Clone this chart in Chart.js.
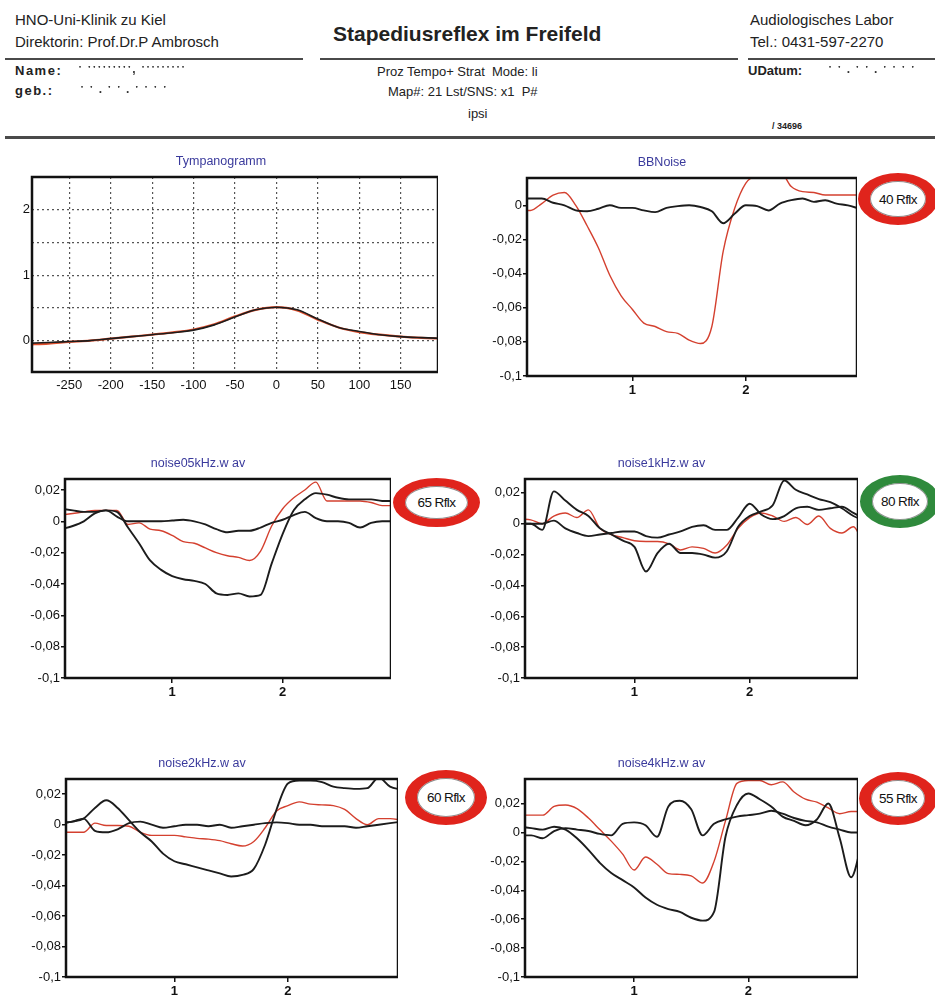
<!DOCTYPE html>
<html>
<head>
<meta charset="utf-8">
<script src="https://cdn.jsdelivr.net/npm/chart.js@4.4.1/dist/chart.umd.min.js"></script>
<style>
body { margin: 0; background: #fff; font-family: "Liberation Sans", Arial, sans-serif; color: #222; }
#page { position: relative; width: 935px; height: 1003px; overflow: hidden; }
.t { position: absolute; white-space: nowrap; }
.rule { position: absolute; background: #4a4a4a; }
.ring { position: absolute; box-sizing: border-box; border-radius: 50%; border-style: solid; border-width: 8px 12px;
        border-color: #e0241c; background: #fff; box-shadow: inset 0 0 0 1px rgba(0,0,0,.45);
        display: flex; align-items: center; justify-content: center; font-size: 13.5px; color: #111; letter-spacing: -0.6px; }
.ring.green { border-color: #2f8a3c; }
.blur { color: #333; filter: blur(0.6px); letter-spacing: 1px; font-weight: bold; }
canvas { position: absolute; }
</style>
</head>
<body>
<div id="page">
  <div class="t" style="left:15px;top:11px;font-size:15px">HNO-Uni-Klinik zu Kiel</div>
  <div class="t" style="left:15px;top:33px;font-size:15px">Direktorin: Prof.Dr.P Ambrosch</div>
  <div class="t" style="left:333px;top:22px;font-size:21px;font-weight:bold">Stapediusreflex im Freifeld</div>
  <div class="t" style="left:750px;top:11px;font-size:15px">Audiologisches Labor</div>
  <div class="t" style="left:750px;top:33px;font-size:15px">Tel.: 0431-597-2270</div>
  <div class="rule" style="left:5px;top:58px;width:298px;height:2px"></div>
  <div class="rule" style="left:320px;top:58px;width:418px;height:2px"></div>
  <div class="rule" style="left:748px;top:58px;width:187px;height:2px"></div>

  <div class="t" style="left:15px;top:63px;font-size:13px;font-weight:bold;letter-spacing:1.5px">Name:</div>
  <div class="t blur" style="left:78px;top:62px;font-size:12px">ˑ ˑˑˑˑˑˑˑˑˑ, ˑˑˑˑˑˑˑˑˑ</div>
  <div class="t" style="left:15px;top:83px;font-size:13px;font-weight:bold;letter-spacing:1.5px">geb.:</div>
  <div class="t blur" style="left:80px;top:82px;font-size:12px">ˑ ˑ . ˑ ˑ . ˑ ˑ ˑ ˑ</div>

  <div class="t" style="left:377px;top:64px;font-size:13px">Proz Tempo+ Strat&nbsp; Mode: li</div>
  <div class="t" style="left:388px;top:84px;font-size:13px">Map#: 21 Lst/SNS: x1&nbsp; P#</div>
  <div class="t" style="left:468px;top:106px;font-size:13px">ipsi</div>

  <div class="t" style="left:748px;top:63px;font-size:13px;font-weight:bold">UDatum:</div>
  <div class="t blur" style="left:828px;top:62px;font-size:12px">ˑ ˑ . ˑ ˑ . ˑ ˑ ˑ ˑ</div>
  <div class="t" style="left:772px;top:121px;font-size:9px;font-weight:bold">/ 34696</div>
  <div class="rule" style="left:5px;top:136px;width:930px;height:3px"></div>

  <canvas id="tymp"></canvas>
  <canvas id="bb"></canvas>
  <canvas id="n05"></canvas>
  <canvas id="n1"></canvas>
  <canvas id="n2"></canvas>
  <canvas id="n4"></canvas>

  <div class="ring" style="left:858px;top:173px;width:80px;height:52px">40 Rflx</div>
  <div class="ring" style="left:393px;top:478px;width:87px;height:49px">65 Rflx</div>
  <div class="ring green" style="left:860px;top:475px;width:80px;height:53px">80 Rflx</div>
  <div class="ring" style="left:405px;top:770px;width:82px;height:55px">60 Rflx</div>
  <div class="ring" style="left:859px;top:772px;width:78px;height:53px">55 Rflx</div>
</div>

<script>
// tympanogram: pressure (daPa) against compliance
var tympPressure = [-300, -275, -250, -225, -200, -175, -150, -125, -100, -75, -50, -25, 0, 25, 50, 75, 100, 125, 150, 175, 200];
var tympBlack = [-0.04, -0.03, -0.015, 0, 0.03, 0.06, 0.09, 0.12, 0.16, 0.24, 0.36, 0.47, 0.51, 0.47, 0.33, 0.2, 0.14, 0.09, 0.06, 0.045, 0.035];
var tympRed = [-0.06, -0.045, -0.02, 0, 0.03, 0.06, 0.09, 0.125, 0.17, 0.25, 0.37, 0.47, 0.51, 0.46, 0.32, 0.2, 0.13, 0.09, 0.06, 0.04, 0.03];
var tympXTicks = [-250, -200, -150, -100, -50, 0, 50, 100, 150];
var tympYTicks = [0, 0.5, 1, 1.5, 2];

// reflex curves, sampled every 0.1 s
var timeAxis = [0, 0.1, 0.2, 0.3, 0.4, 0.5, 0.6, 0.7, 0.8, 0.9, 1, 1.1, 1.2, 1.3, 1.4, 1.5, 1.6, 1.7, 1.8, 1.9, 2, 2.1, 2.2, 2.3, 2.4, 2.5, 2.6, 2.7, 2.8, 2.9, 3];

var bbRed = [-0.003, -0.003, 0.001, 0.006, 0.0075, 0, -0.012, -0.025, -0.041, -0.053, -0.061, -0.069, -0.071, -0.074, -0.075, -0.079, -0.081, -0.071, -0.027, -0.002, 0.013, 0.018, 0.02, 0.02, 0.011, 0.008, 0.0075, 0.006, 0.006, 0.006, 0.006];
var bbBlack = [0.004, 0.004, 0.004, 0.0015, 0, -0.003, -0.0035, -0.002, 0, -0.0015, -0.0015, -0.003, -0.004, -0.0015, -0.0005, 0, -0.001, -0.0035, -0.0105, -0.005, 0, -0.0005, -0.003, 0.001, 0.003, 0.004, 0.002, 0.003, 0.001, 0, -0.002];

var n05Red = [0.004, 0.005, 0.006, 0.007, 0.007, 0.007, -0.002, -0.001, -0.005, -0.006, -0.009, -0.013, -0.014, -0.017, -0.02, -0.022, -0.023, -0.025, -0.019, -0.003, 0.008, 0.015, 0.02, 0.025, 0.013, 0.013, 0.013, 0.013, 0.012, 0.01, 0.01];
var n05BlackA = [0.008, 0.007, 0.006, 0.006, 0.007, 0.006, -0.004, -0.014, -0.025, -0.031, -0.035, -0.037, -0.038, -0.04, -0.046, -0.047, -0.046, -0.048, -0.047, -0.027, -0.008, 0.007, 0.014, 0.018, 0.017, 0.015, 0.014, 0.014, 0.014, 0.013, 0.013];
var n05BlackB = [-0.005, -0.003, 0, 0.005, 0.007, 0.003, 0, 0, 0, 0, 0.0005, 0.001, 0, -0.002, -0.005, -0.007, -0.006, -0.006, -0.004, -0.001, 0.001, 0.004, 0.006, 0.002, 0, 0, -0.001, -0.004, -0.001, 0, 0];

var n1Red = [0.003, 0.0025, 0, 0.005, 0.007, 0.004, 0.009, -0.003, -0.007, -0.009, -0.011, -0.0115, -0.0115, -0.013, -0.017, -0.015, -0.016, -0.019, -0.014, -0.003, 0.004, 0.007, 0.005, 0.0015, 0.004, -0.0005, 0.005, -0.003, -0.006, -0.002, -0.016];
var n1BlackA = [0, 0, -0.004, 0.021, 0.015, 0.009, 0.005, -0.003, -0.007, -0.011, -0.015, -0.031, -0.019, -0.013, -0.019, -0.019, -0.02, -0.022, -0.018, -0.002, 0.005, 0.008, 0.012, 0.028, 0.022, 0.019, 0.016, 0.014, 0.01, 0.005, 0.002];
var n1BlackB = [0, 0, 0, 0.002, -0.003, -0.006, -0.008, -0.007, -0.006, -0.005, -0.005, -0.008, -0.009, -0.007, -0.005, -0.002, -0.001, -0.004, -0.004, 0.004, 0.013, 0.006, 0.003, 0.005, 0.01, 0.011, 0.009, 0.01, 0.011, 0.007, 0.003];

var n2Red = [-0.005, -0.005, -0.005, 0.001, -0.0005, -0.0005, -0.001, -0.005, -0.007, -0.007, -0.007, -0.008, -0.009, -0.0095, -0.0105, -0.0125, -0.014, -0.011, -0.002, 0.009, 0.0125, 0.015, 0.0135, 0.013, 0.0125, 0.01, 0.004, 0, 0.004, 0.004, 0.003];
var n2BlackA = [0.001, 0.002, 0.004, 0.011, 0.016, 0.011, 0.003, -0.005, -0.011, -0.019, -0.024, -0.026, -0.028, -0.03, -0.032, -0.034, -0.033, -0.029, -0.013, 0.01, 0.027, 0.029, 0.029, 0.028, 0.025, 0.024, 0.0235, 0.024, 0.031, 0.025, 0.023];
var n2BlackB = [0.001, 0.002, 0.004, -0.004, -0.005, -0.003, 0.001, 0.002, 0, -0.002, -0.001, 0, 0, -0.001, 0, -0.002, -0.001, 0, 0.001, 0.0015, 0.001, 0, 0, -0.001, -0.001, -0.001, -0.002, -0.001, 0, 0.001, 0.002];

var n4Red = [0.012, 0.012, 0.012, 0.018, 0.019, 0.0165, 0.01, 0.002, -0.006, -0.015, -0.026, -0.017, -0.022, -0.0285, -0.029, -0.03, -0.035, -0.02, 0.008, 0.034, 0.036, 0.036, 0.033, 0.035, 0.028, 0.023, 0.021, 0.017, 0.013, 0.0145, 0.0145];
var n4BlackA = [0.004, 0.003, 0.002, 0.004, 0.002, -0.004, -0.012, -0.021, -0.028, -0.033, -0.038, -0.045, -0.05, -0.053, -0.055, -0.059, -0.061, -0.055, -0.003, 0.019, 0.027, 0.023, 0.018, 0.011, 0.008, 0.005, 0.009, 0.02, -0.004, -0.031, -0.005];
var n4BlackB = [-0.002, -0.002, -0.004, 0.001, 0.003, 0.002, 0.001, -0.001, -0.002, 0.006, 0.007, 0.005, -0.003, 0.018, 0.022, 0.016, -0.002, 0.006, 0.009, 0.011, 0.012, 0.013, 0.015, 0.013, 0.01, 0.008, 0.007, 0.004, 0.002, 0, 0];

var reflexXTicks = [1, 2];
var bbYTicks = [0, -0.02, -0.04, -0.06, -0.08, -0.1];
var reflexYTicks = [0.02, 0, -0.02, -0.04, -0.06, -0.08, -0.1];

Chart.defaults.font.family = "'Liberation Sans', Arial, sans-serif";
Chart.defaults.color = '#111';

var RED = '#d4402f';
var BLACK = '#1c1c1c';
var TITLE_H = 25, XAXIS_H = 30, PAD_R = 4;

// thick box round the plot
var framePlugin = {
    id: 'frame',
    afterDatasetsDraw: function (chart) {
        var a = chart.chartArea, ctx = chart.ctx;
        ctx.save();
        ctx.strokeStyle = '#111';
        ctx.lineWidth = 2.5;
        ctx.strokeRect(a.left, a.top, a.right - a.left, a.bottom - a.top);
        ctx.restore();
    }
};

function place(id, box, yw) {
    var c = document.getElementById(id);
    c.width = yw + (box.r - box.l) + PAD_R;
    c.height = TITLE_H + (box.b - box.t) + XAXIS_H;
    c.style.left = (box.l - yw) + 'px';
    c.style.top = (box.t - TITLE_H) + 'px';
    return c;
}

function pairs(xs, ys) {
    return xs.map(function (x, i) { return { x: x, y: ys[i] }; });
}

function comma(v) {
    return String(+v.toFixed(3)).replace('.', ',');
}

function titleOpts(text) {
    return {
        display: true, text: text, color: '#3a3a9c',
        font: { size: 12.5, weight: 'normal', lineHeight: 1 },
        padding: { top: 3, bottom: 9.5 }
    };
}

function reflexChart(id, box, title, xmin, xmax, ymin, ymax, yTicks, series) {
    var yw = 60;
    var c = place(id, box, yw);
    var datasets = series.map(function (s) {
        return {
            data: pairs(timeAxis, s.values),
            borderColor: s.color,
            borderWidth: s.color === RED ? 1.4 : 1.9,
            pointRadius: 0,
            cubicInterpolationMode: 'monotone',
            fill: false
        };
    });
    new Chart(c, {
        type: 'line',
        data: { datasets: datasets },
        plugins: [framePlugin],
        options: {
            responsive: false,
            animation: false,
            layout: { padding: 0 },
            plugins: { legend: { display: false }, tooltip: { enabled: false }, title: titleOpts(title) },
            scales: {
                x: {
                    type: 'linear', min: xmin, max: xmax,
                    afterBuildTicks: function (s) { s.ticks = reflexXTicks.map(function (v) { return { value: v }; }); },
                    afterFit: function (s) { s.height = XAXIS_H; },
                    ticks: { font: { size: 13, weight: 'bold' }, padding: 2, maxRotation: 0 },
                    grid: { drawOnChartArea: false, drawTicks: true, tickLength: 5, color: '#111', lineWidth: 1.5 },
                    border: { display: false }
                },
                y: {
                    min: ymin, max: ymax,
                    afterBuildTicks: function (s) { s.ticks = yTicks.map(function (v) { return { value: v }; }); },
                    afterFit: function (s) { s.width = yw; },
                    ticks: { font: { size: 13 }, padding: 1, callback: function (v) { return comma(v); } },
                    grid: { drawOnChartArea: false, drawTicks: true, tickLength: 4, color: '#111', lineWidth: 1.5 },
                    border: { display: false }
                }
            }
        }
    });
}

function tympChart() {
    var box = { l: 32, t: 177, r: 434, b: 372 };
    var yw = 28;
    var c = place('tymp', box, yw);
    new Chart(c, {
        type: 'line',
        data: {
            datasets: [
                { data: pairs(tympPressure, tympBlack), borderColor: BLACK, borderWidth: 1.6, pointRadius: 0, cubicInterpolationMode: 'monotone' },
                { data: pairs(tympPressure, tympRed), borderColor: '#e2502e', borderWidth: 2.2, pointRadius: 0, cubicInterpolationMode: 'monotone' }
            ]
        },
        plugins: [framePlugin],
        options: {
            responsive: false,
            animation: false,
            layout: { padding: 0 },
            plugins: { legend: { display: false }, tooltip: { enabled: false }, title: titleOpts('Tympanogramm') },
            scales: {
                x: {
                    type: 'linear', min: -295, max: 195,
                    afterBuildTicks: function (s) { s.ticks = tympXTicks.map(function (v) { return { value: v }; }); },
                    afterFit: function (s) { s.height = XAXIS_H; },
                    ticks: { font: { size: 13 }, padding: 6, maxRotation: 0 },
                    grid: { drawTicks: false, color: '#555', lineWidth: 1.2 },
                    border: { display: false, dash: [2, 3] }
                },
                y: {
                    min: -0.48, max: 2.5,
                    afterBuildTicks: function (s) { s.ticks = tympYTicks.map(function (v) { return { value: v }; }); },
                    afterFit: function (s) { s.width = yw; },
                    ticks: { font: { size: 13 }, padding: 2, callback: function (v) { return Number.isInteger(v) ? String(v) : ''; } },
                    grid: { drawTicks: false, color: '#555', lineWidth: 1.2 },
                    border: { display: false, dash: [2, 3] }
                }
            }
        }
    });
}

tympChart();
reflexChart('bb', { l: 527, t: 178, r: 853, b: 376 }, 'BBNoise', 0.07, 2.98, -0.1, 0.016, bbYTicks,
    [{ values: bbBlack, color: BLACK }, { values: bbRed, color: RED }]);
reflexChart('n05', { l: 65, t: 479, r: 387, b: 678 }, 'noise05kHz.w av', 0.03, 2.98, -0.1, 0.027, reflexYTicks,
    [{ values: n05BlackA, color: BLACK }, { values: n05BlackB, color: BLACK }, { values: n05Red, color: RED }]);
reflexChart('n1', { l: 525, t: 479, r: 854, b: 678 }, 'noise1kHz.w av', 0.05, 2.94, -0.1, 0.029, reflexYTicks,
    [{ values: n1BlackA, color: BLACK }, { values: n1BlackB, color: BLACK }, { values: n1Red, color: RED }]);
reflexChart('n2', { l: 66, t: 779, r: 394, b: 977 }, 'noise2kHz.w av', 0.045, 2.97, -0.1, 0.03, reflexYTicks,
    [{ values: n2BlackA, color: BLACK }, { values: n2BlackB, color: BLACK }, { values: n2Red, color: RED }]);
reflexChart('n4', { l: 525, t: 779, r: 854, b: 977 }, 'noise4kHz.w av', 0.045, 2.96, -0.1, 0.037, reflexYTicks,
    [{ values: n4BlackA, color: BLACK }, { values: n4BlackB, color: BLACK }, { values: n4Red, color: RED }]);
</script>
</body>
</html>
